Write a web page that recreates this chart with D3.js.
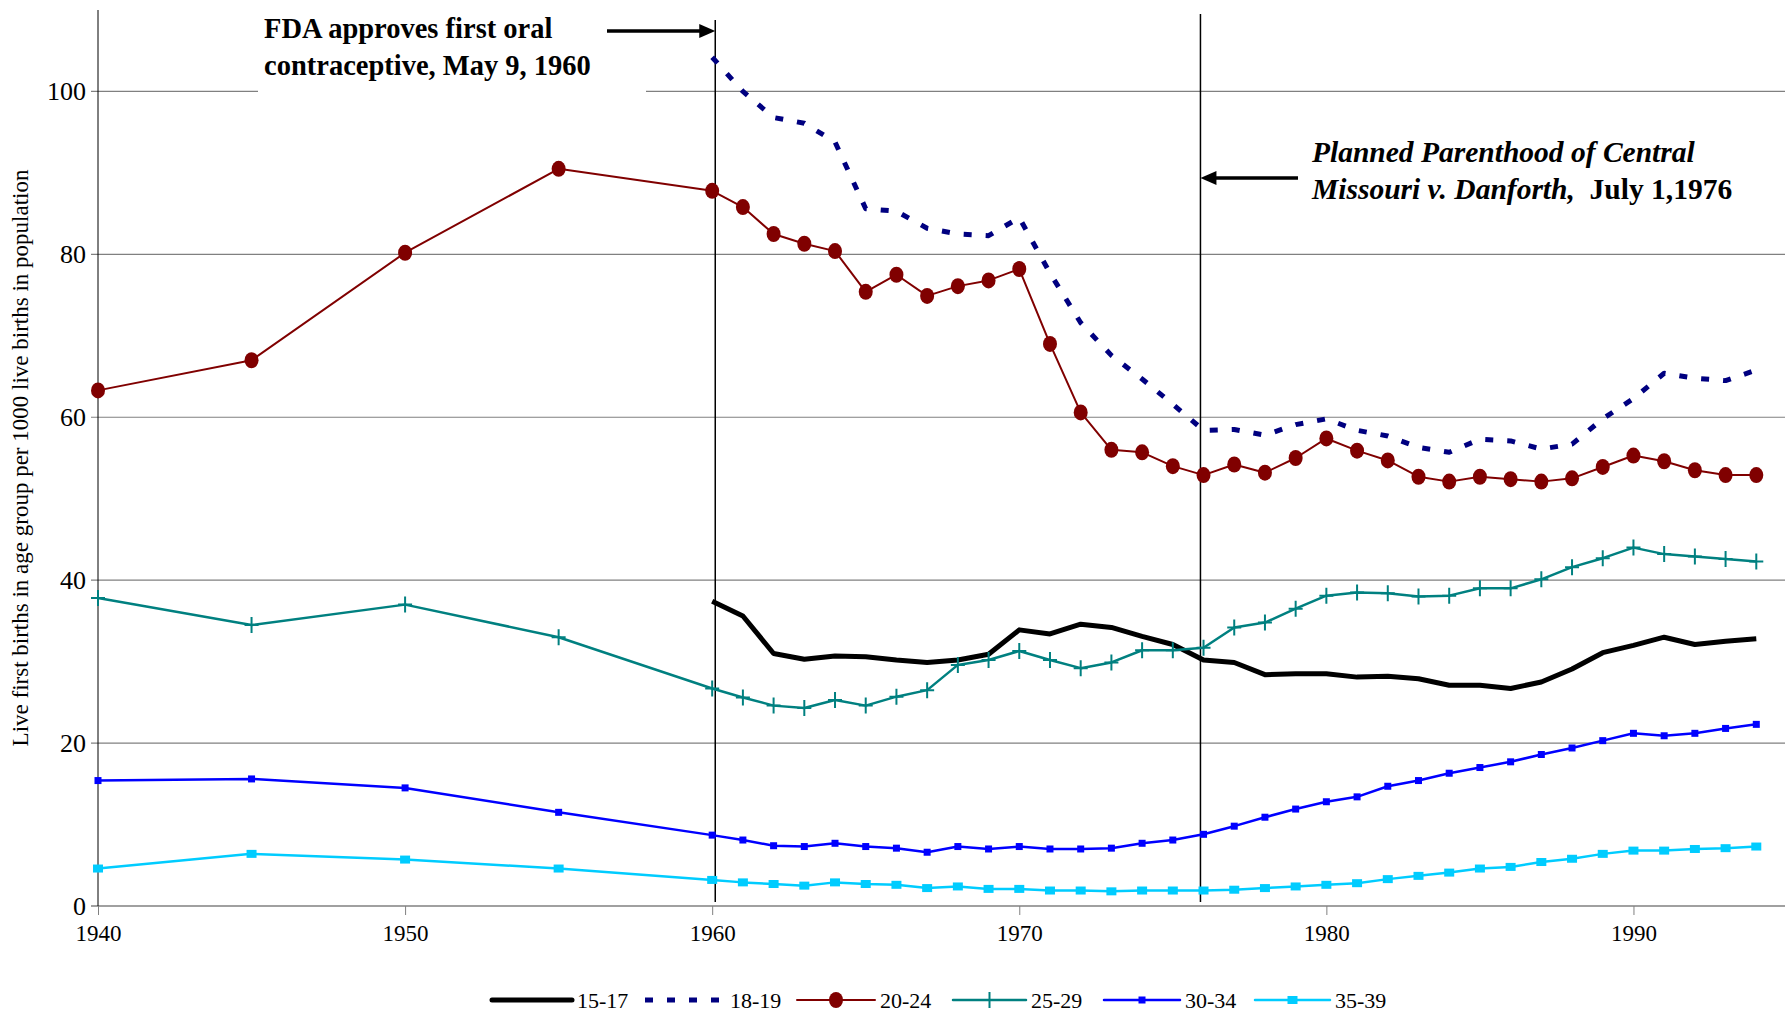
<!DOCTYPE html>
<html>
<head>
<meta charset="utf-8">
<script src="https://cdn.jsdelivr.net/npm/d3@7"></script>
<style>
  body { margin: 0; background: #fff; }
  text { font-family: "Liberation Serif", "Times New Roman", serif; }
</style>
</head>
<body>
<svg id="chart"></svg>
<script>
// years sampled: five-year points up to 1960, then annual
const yearsLong = [1940, 1945, 1950, 1955, 1960, 1961, 1962, 1963, 1964, 1965, 1966, 1967, 1968, 1969,
  1970, 1971, 1972, 1973, 1974, 1975, 1976, 1977, 1978, 1979, 1980, 1981, 1982, 1983, 1984, 1985,
  1986, 1987, 1988, 1989, 1990, 1991, 1992, 1993, 1994];
const yearsShort = yearsLong.slice(4);

const ages15to17 = [37.4, 35.6, 31.0, 30.3, 30.7, 30.6, 30.2, 29.9, 30.2, 30.9, 33.9, 33.4, 34.6, 34.2,
  33.1, 32.1, 30.2, 29.9, 28.4, 28.5, 28.5, 28.1, 28.2, 27.9, 27.1, 27.1, 26.7, 27.5, 29.1, 31.1,
  32.0, 33.0, 32.1, 32.5, 32.8];
const ages18to19 = [104.2, 100.0, 96.8, 96.1, 93.8, 85.6, 85.3, 83.2, 82.5, 82.3, 84.5, 77.7, 71.6, 67.6,
  64.7, 61.6, 58.4, 58.5, 57.8, 59.1, 59.8, 58.4, 57.7, 56.3, 55.7, 57.3, 57.1, 56.1, 56.7, 59.8,
  62.3, 65.4, 64.8, 64.5, 65.8];
const ages20to24 = [63.3, 67.0, 80.2, 90.5, 87.8, 85.8, 82.5, 81.3, 80.4, 75.4, 77.5, 74.9, 76.1, 76.8,
  78.2, 69.0, 60.6, 56.0, 55.7, 54.0, 52.9, 54.2, 53.2, 55.0, 57.4, 55.9, 54.7, 52.7, 52.1, 52.7,
  52.4, 52.1, 52.5, 53.9, 55.3, 54.6, 53.5, 52.9, 52.9];
const ages25to29 = [37.8, 34.5, 37.0, 33.0, 26.7, 25.6, 24.6, 24.3, 25.3, 24.6, 25.7, 26.5, 29.6, 30.2,
  31.3, 30.2, 29.2, 29.9, 31.4, 31.4, 31.7, 34.2, 34.8, 36.5, 38.1, 38.5, 38.4, 38.0, 38.1, 39.0,
  39.0, 40.1, 41.6, 42.7, 44.0, 43.2, 42.9, 42.6, 42.3];
const ages30to34 = [15.4, 15.6, 14.5, 11.5, 8.7, 8.1, 7.4, 7.3, 7.7, 7.3, 7.1, 6.6, 7.3, 7.0,
  7.3, 7.0, 7.0, 7.1, 7.7, 8.1, 8.8, 9.8, 10.9, 11.9, 12.8, 13.4, 14.7, 15.4, 16.3, 17.0,
  17.7, 18.6, 19.4, 20.3, 21.2, 20.9, 21.2, 21.8, 22.3];
const ages35to39 = [4.6, 6.4, 5.7, 4.6, 3.2, 2.9, 2.7, 2.5, 2.9, 2.7, 2.6, 2.2, 2.4, 2.1,
  2.1, 1.9, 1.9, 1.8, 1.9, 1.9, 1.9, 2.0, 2.2, 2.4, 2.6, 2.8, 3.3, 3.7, 4.1, 4.6,
  4.8, 5.4, 5.8, 6.4, 6.8, 6.8, 7.0, 7.1, 7.3];

const xTicks = [1940, 1950, 1960, 1970, 1980, 1990];
const yTicks = [0, 20, 40, 60, 80, 100];
const eventYears = [1960.1, 1975.9];

const width = 1785, height = 1014;
const svg = d3.select('#chart').attr('width', width).attr('height', height);

const x = d3.scaleLinear().domain([1940, 1995]).range([98, 1787]);
const y = d3.scaleLinear().domain([0, 110]).range([906, 10]);

// series styling
const series = [
  { name: '15-17', years: yearsShort, values: ages15to17, color: '#000000', width: 5, marker: null },
  { name: '18-19', years: yearsShort, values: ages18to19, color: '#000080', width: 5, dash: '8,14', marker: null },
  { name: '20-24', years: yearsLong, values: ages20to24, color: '#800000', width: 2, marker: 'circle' },
  { name: '25-29', years: yearsLong, values: ages25to29, color: '#008080', width: 2.5, marker: 'plus' },
  { name: '30-34', years: yearsLong, values: ages30to34, color: '#0000ff', width: 2.5, marker: 'smallsquare' },
  { name: '35-39', years: yearsLong, values: ages35to39, color: '#00ccff', width: 2.5, marker: 'square' }
];

// gridlines
svg.append('g')
  .selectAll('line')
  .data(yTicks.filter(d => d > 0))
  .join('line')
  .attr('x1', x(1940) - 7)
  .attr('x2', width)
  .attr('y1', d => y(d))
  .attr('y2', d => y(d))
  .attr('stroke', '#808080')
  .attr('stroke-width', 1.2);

// x axis
const xAxis = svg.append('g')
  .attr('transform', `translate(0,${y(0)})`)
  .call(d3.axisBottom(x).tickValues(xTicks).tickFormat(d3.format('d')).tickSize(9).tickPadding(10));
xAxis.select('.domain').attr('stroke', '#808080').attr('stroke-width', 1.5).attr('d', `M${x(1940) - 7},0H${width}`);
xAxis.selectAll('.tick line').attr('stroke', '#808080');
xAxis.selectAll('text').attr('font-size', 23).attr('fill', '#000')
  .style('font-family', '"Liberation Serif", serif');

// y axis
const yAxis = svg.append('g')
  .attr('transform', `translate(${x(1940)},0)`)
  .call(d3.axisLeft(y).tickValues(yTicks).tickSize(0).tickPadding(12));
yAxis.select('.domain').attr('stroke', '#000').attr('stroke-width', 1).attr('d', `M0,${y(110)}V${y(0)}`);
yAxis.selectAll('text').attr('font-size', 26).attr('fill', '#000')
  .style('font-family', '"Liberation Serif", serif');

svg.append('text')
  .attr('transform', `translate(28,${(y(0) + y(110)) / 2}) rotate(-90)`)
  .attr('text-anchor', 'middle')
  .attr('font-size', 23)
  .text('Live first births in age group per 1000 live births in population');

// white box behind the FDA annotation (covers the 100 gridline)
svg.append('rect')
  .attr('x', 258).attr('y', 4)
  .attr('width', 388).attr('height', 98)
  .attr('fill', '#fff');

// event lines
svg.append('line')
  .attr('x1', x(eventYears[0])).attr('x2', x(eventYears[0]))
  .attr('y1', 20).attr('y2', 902)
  .attr('stroke', '#000').attr('stroke-width', 1.5);
svg.append('line')
  .attr('x1', x(eventYears[1])).attr('x2', x(eventYears[1]))
  .attr('y1', 14).attr('y2', 902)
  .attr('stroke', '#000').attr('stroke-width', 1.5);

// draw series
const line = d3.line().x(d => x(d[0])).y(d => y(d[1]));

series.forEach(s => {
  const pts = s.years.map((yr, i) => [yr, s.values[i]]);
  const g = svg.append('g');
  g.append('path')
    .attr('d', line(pts))
    .attr('fill', 'none')
    .attr('stroke', s.color)
    .attr('stroke-width', s.width)
    .attr('stroke-linejoin', 'round')
    .attr('stroke-dasharray', s.dash || null);
  drawMarkers(g, pts.map(p => [x(p[0]), y(p[1])]), s);
});

function drawMarkers(g, pts, s) {
  pts.forEach(([px, py]) => {
    if (s.marker === 'circle') {
      g.append('ellipse').attr('cx', px).attr('cy', py).attr('rx', 7).attr('ry', 8)
        .attr('fill', s.color);
    } else if (s.marker === 'plus') {
      g.append('path')
        .attr('d', `M${px - 7},${py}H${px + 7}M${px},${py - 8}V${py + 8}`)
        .attr('stroke', s.color).attr('stroke-width', 2);
    } else if (s.marker === 'smallsquare') {
      g.append('rect').attr('x', px - 3.5).attr('y', py - 3.5).attr('width', 7).attr('height', 7)
        .attr('fill', s.color);
    } else if (s.marker === 'square') {
      g.append('rect').attr('x', px - 5).attr('y', py - 4).attr('width', 10).attr('height', 8)
        .attr('fill', s.color);
    }
  });
}

// annotations
const fda = svg.append('text').attr('font-size', 28.5).attr('font-weight', 'bold');
fda.append('tspan').attr('x', 264).attr('y', 38).text('FDA approves first oral');
fda.append('tspan').attr('x', 264).attr('y', 75).text('contraceptive, May 9, 1960');

function arrow(x1, x2, yy) {
  const dir = Math.sign(x2 - x1);
  svg.append('line')
    .attr('x1', x1).attr('x2', x2 - dir * 12).attr('y1', yy).attr('y2', yy)
    .attr('stroke', '#000').attr('stroke-width', 3.5);
  svg.append('path')
    .attr('d', `M${x2},${yy}L${x2 - dir * 16},${yy - 7}L${x2 - dir * 16},${yy + 7}Z`)
    .attr('fill', '#000');
}
arrow(607, x(eventYears[0]), 31);
arrow(1298, x(eventYears[1]), 178);

const pp = svg.append('text').attr('font-size', 29.5).attr('font-weight', 'bold');
pp.append('tspan').attr('x', 1312).attr('y', 162).attr('font-style', 'italic').text('Planned Parenthood of Central');
const pp2 = svg.append('text').attr('font-size', 29.5).attr('font-weight', 'bold').attr('x', 1312).attr('y', 199);
pp2.append('tspan').attr('font-style', 'italic').text('Missouri v. Danforth,');
pp2.append('tspan').text('\u00a0 July 1,1976');

// legend
const legendY = 1000;
const legendItems = [
  { x1: 492, x2: 572, tx: 577 },
  { x1: 645, x2: 725, tx: 730 },
  { x1: 797, x2: 875, tx: 880 },
  { x1: 953, x2: 1026, tx: 1031 },
  { x1: 1104, x2: 1180, tx: 1185 },
  { x1: 1255, x2: 1330, tx: 1335 }
];
series.forEach((s, i) => {
  const it = legendItems[i];
  const g = svg.append('g');
  g.append('line')
    .attr('x1', it.x1).attr('x2', it.x2).attr('y1', legendY).attr('y2', legendY)
    .attr('stroke', s.color).attr('stroke-width', s.width)
    .attr('stroke-linecap', s.dash ? 'butt' : 'round')
    .attr('stroke-dasharray', s.dash || null);
  drawMarkers(g, [[(it.x1 + it.x2) / 2, legendY]], s);
  g.append('text')
    .attr('x', it.tx).attr('y', legendY + 8)
    .attr('font-size', 22)
    .text(s.name);
});
</script>
</body>
</html>
